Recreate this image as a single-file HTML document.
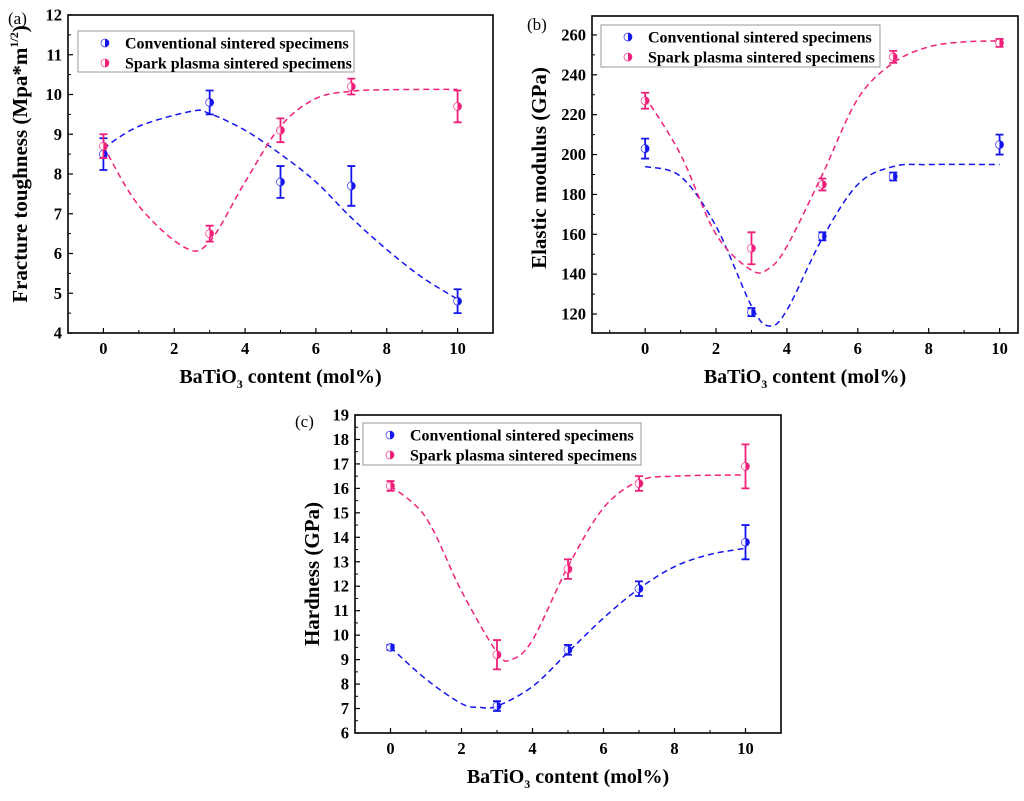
<!DOCTYPE html>
<html><head><meta charset="utf-8">
<style>
body{margin:0;background:#fff;}
svg{display:block;font-family:"Liberation Serif",serif;}
</style></head>
<body>
<svg id="fig" width="1024" height="801" viewBox="0 0 1024 801"></svg>
<script>
// ---------- data ----------
const xCats = [0, 3, 5, 7, 10];
const aConv = [8.5, 9.8, 7.8, 7.7, 4.8];
const aConvErr = [0.4, 0.3, 0.4, 0.5, 0.3];
const aSpark = [8.7, 6.5, 9.1, 10.2, 9.7];
const aSparkErr = [0.3, 0.2, 0.3, 0.2, 0.4];
const aConvFitX = [0, 1, 2.5, 3, 4, 5, 6, 7, 8, 9, 10];
const aConvFitY = [8.65, 9.2, 9.58, 9.52, 9.1, 8.5, 7.8, 6.9, 6.1, 5.4, 4.85];
const aSparkFitX = [0, 1, 2.3, 3, 4, 5, 6, 7, 8, 10];
const aSparkFitY = [8.7, 7.2, 6.15, 6.3, 7.8, 9.2, 9.9, 10.08, 10.12, 10.13];

const bConv = [203, 121, 159, 189, 205];
const bConvErr = [5, 2, 2, 2, 5];
const bSpark = [227, 153, 185, 249, 256];
const bSparkErr = [4, 8, 3, 3, 2];
const bConvFitX = [0, 1, 2, 3, 3.5, 4, 5, 6, 7, 8, 10];
const bConvFitY = [194, 189, 164, 124, 114, 122, 158, 185, 194, 195, 195];
const bSparkFitX = [0, 1, 2, 3, 3.5, 4, 5, 6, 7, 8, 9, 10];
const bSparkFitY = [229, 200, 160, 142, 143, 154, 190, 228, 246, 254, 256.5, 257];

const cConv = [9.5, 7.1, 9.4, 11.9, 13.8];
const cConvErr = [0.1, 0.2, 0.2, 0.3, 0.7];
const cSpark = [16.1, 9.2, 12.7, 16.2, 16.9];
const cSparkErr = [0.2, 0.6, 0.4, 0.3, 0.9];
const cConvFitX = [0, 1, 2, 2.5, 3, 4, 5, 6, 7, 8, 9, 10];
const cConvFitY = [9.5, 8.2, 7.2, 7.05, 7.1, 7.9, 9.3, 10.7, 11.9, 12.8, 13.3, 13.55];
const cSparkFitX = [0, 1, 2, 3, 3.4, 4, 5, 6, 7, 8, 10];
const cSparkFitY = [16.1, 14.8, 11.8, 9.3, 9.0, 9.8, 12.8, 15.2, 16.3, 16.5, 16.55];

const xTicks = [0, 2, 4, 6, 8, 10];
const aYTicks = [4, 5, 6, 7, 8, 9, 10, 11, 12];
const bYTicks = [120, 140, 160, 180, 200, 220, 240, 260];
const cYTicks = [6, 7, 8, 9, 10, 11, 12, 13, 14, 15, 16, 17, 18, 19];

const BLUE = "#1414ee", PINK = "#f0207a";
const NS = "http://www.w3.org/2000/svg";
const svg = document.getElementById("fig");
function mk(tag, attrs, parent) {
  const e = document.createElementNS(NS, tag);
  for (const k in attrs) e.setAttribute(k, attrs[k]);
  (parent || svg).appendChild(e);
  return e;
}
function smooth(pts) {
  let d = "M" + pts[0][0] + "," + pts[0][1];
  for (let i = 0; i < pts.length - 1; i++) {
    const p0 = pts[i - 1] || pts[i], p1 = pts[i], p2 = pts[i + 1], p3 = pts[i + 2] || p2;
    const c1 = [p1[0] + (p2[0] - p0[0]) / 6, p1[1] + (p2[1] - p0[1]) / 6];
    const c2 = [p2[0] - (p3[0] - p1[0]) / 6, p2[1] - (p3[1] - p1[1]) / 6];
    d += " C" + c1 + " " + c2 + " " + p2;
  }
  return d;
}
function marker(g, cx, cy, col) {
  const m = mk("g", {}, g);
  
  
  mk("circle", { cx: cx, cy: cy, r: 4, fill: "#fff", stroke: col, "stroke-width": 0.8, opacity: 0.8 }, m);
  mk("path", { d: `M${cx},${cy - 4} A4,4 0 0 1 ${cx},${cy + 4} Z`, fill: col }, m);
}
function panel(o) {
  const g = mk("g", {});
  
  
  const X = v => o.L + (v - o.xmin) / (o.xmax - o.xmin) * (o.R - o.L);
  const Y = v => o.B - (v - o.ymin) / (o.ymax - o.ymin) * (o.B - o.T);
  xTicks.forEach(t => {
    mk("line", { x1: X(t), x2: X(t), y1: o.B, y2: o.B - 5, stroke: "#000", "stroke-width": 1.2 }, g);
    const tx = mk("text", { x: X(t), y: o.B + 21, "text-anchor": "middle", "font-size": 16.5, "font-weight": "bold" }, g);
    tx.textContent = t;
  });
  for (let t = -1; t <= 11; t += 2) {
    if (X(t) > o.L + 1 && X(t) < o.R - 1)
      mk("line", { x1: X(t), x2: X(t), y1: o.B, y2: o.B - 3, stroke: "#000", "stroke-width": 1 }, g);
  }
  const yt = o.yTicks;
  yt.forEach((t, i) => {
    mk("line", { x1: o.L, x2: o.L + 5, y1: Y(t), y2: Y(t), stroke: "#000", "stroke-width": 1.2 }, g);
    const tx = mk("text", { x: o.L - 6, y: Y(t) + 5.5, "text-anchor": "end", "font-size": 16.5, "font-weight": "bold" }, g);
    tx.textContent = t;
    if (i < yt.length - 1) {
      const mid = (t + yt[i + 1]) / 2;
      mk("line", { x1: o.L, x2: o.L + 3, y1: Y(mid), y2: Y(mid), stroke: "#000", "stroke-width": 1 }, g);
    }
  });
  mk("rect", { x: o.L, y: o.T, width: o.R - o.L, height: o.B - o.T, fill: "none", stroke: "#000", "stroke-width": 1.6 }, g);
  [[o.cfx, o.cfy, BLUE, "conventional-fit-curve"], [o.sfx, o.sfy, PINK, "spark-plasma-fit-curve"]].forEach(s => {
    const p = mk("path", { d: smooth(s[0].map((x, i) => [X(x), Y(s[1][i])])), fill: "none", stroke: s[2], "stroke-width": 1.5, "stroke-dasharray": "6,4" }, g);
    
    
  });
  [[o.c, o.ce, BLUE], [o.s, o.se, PINK]].forEach(s => {
    xCats.forEach((x, i) => {
      const cx = X(x), y1 = Y(s[0][i] - s[1][i]), y2 = Y(s[0][i] + s[1][i]);
      const eb = mk("path", { d: `M${cx},${y1}V${y2}M${cx - 4},${y1}H${cx + 4}M${cx - 4},${y2}H${cx + 4}`, stroke: s[2], "stroke-width": 1.8, fill: "none" }, g);
      
      
      marker(g, cx, Y(s[0][i]), s[2]);
    });
  });
  const lg = mk("g", {}, g);
  
  
  mk("rect", { x: o.lg[0], y: o.lg[1], width: o.lg[2], height: o.lg[3], fill: "#fff", stroke: "#999", "stroke-width": 1 }, lg);
  [["Conventional sintered specimens", BLUE], ["Spark plasma sintered specimens", PINK]].forEach((e, i) => {
    const ly = o.lg[1] + 12 + i * 20;
    marker(lg, o.lg[0] + 27, ly, e[1]);
    const t = mk("text", { x: o.lg[0] + 47, y: ly + 5.5, "font-size": 16, "font-weight": "bold" }, lg);
    
    
    t.textContent = e[0];
  });
  const pl = mk("text", { x: o.pl[0], y: o.pl[1], "font-size": 17 }, g);
  
  
  pl.textContent = o.label;
  const xt = mk("text", { x: (o.L + o.R) / 2, y: o.B + 50, "text-anchor": "middle", "font-size": 20, "font-weight": "bold" }, g);
  
  
  xt.innerHTML = 'BaTiO<tspan font-size="12" dy="5">3</tspan><tspan dy="-5"> content (mol%)</tspan>';
  const yy = mk("text", { x: 0, y: 0, "text-anchor": "middle", "font-size": 21, "font-weight": "bold", transform: `translate(${o.yt[0]},${o.yt[1]}) rotate(-90)` }, g);
  
  
  yy.innerHTML = o.ytitle;
}
panel({ name: "panel-a-fracture-toughness", L: 68, R: 493, T: 15, B: 333, xmin: -1, xmax: 11, ymin: 4, ymax: 12,
  yTicks: aYTicks, c: aConv, ce: aConvErr, s: aSpark, se: aSparkErr, cfx: aConvFitX, cfy: aConvFitY, sfx: aSparkFitX, sfy: aSparkFitY,
  lg: [78, 31, 276, 41], pl: [8, 24], label: "(a)", yt: [27, 164],
  ytitle: 'Fracture toughness (Mpa*m<tspan font-size="12" dy="-9">1/2</tspan><tspan dy="9">)</tspan>' });
panel({ name: "panel-b-elastic-modulus", L: 592, R: 1018, T: 16, B: 333, xmin: -1.5, xmax: 10.52, ymin: 110.5, ymax: 269.5,
  yTicks: bYTicks, c: bConv, ce: bConvErr, s: bSpark, se: bSparkErr, cfx: bConvFitX, cfy: bConvFitY, sfx: bSparkFitX, sfy: bSparkFitY,
  lg: [601, 25, 279, 42], pl: [527, 30], label: "(b)", yt: [546, 168], ytitle: 'Elastic modulus (GPa)' });
panel({ name: "panel-c-hardness", L: 355, R: 781, T: 415, B: 733, xmin: -1, xmax: 11, ymin: 6, ymax: 19,
  yTicks: cYTicks, c: cConv, ce: cConvErr, s: cSpark, se: cSparkErr, cfx: cConvFitX, cfy: cConvFitY, sfx: cSparkFitX, sfy: cSparkFitY,
  lg: [363, 423, 278, 42], pl: [295, 427], label: "(c)", yt: [319, 574], ytitle: 'Hardness (GPa)' });
</script>
</body></html>
